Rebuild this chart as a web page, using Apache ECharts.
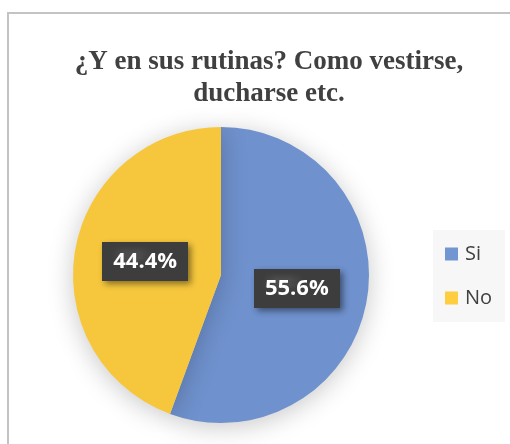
<!DOCTYPE html>
<html>
<head>
<meta charset="utf-8">
<script src="https://cdn.jsdelivr.net/npm/echarts@6/dist/echarts.min.js"></script>
<style>
    html, body { margin: 0; padding: 0; background: #fff; }
    #chart { width: 510px; height: 444px; }
</style>
</head>
<body>
<div id="chart"></div>
<script>
    // datos del grafico
    let categories = ['Si', 'No'];
    let values = [55.6, 44.4];
    let colors = ['#6f91cd', '#f6c73d'];
    let legendColors = ['#7296d2', '#fecd40'];

    // textura punteada para las etiquetas
    function dotPattern() {
        let c = document.createElement('canvas');
        c.width = 6;
        c.height = 6;
        let ctx = c.getContext('2d');
        ctx.fillStyle = '#3d3d3d';
        ctx.fillRect(0, 0, 6, 6);
        ctx.fillStyle = '#4c4c4c';
        ctx.fillRect(1, 1, 2, 2);
        return c;
    }

    let seriesData = [];
    for (let i = 0; i < categories.length; i++) {
        seriesData.push({
            name: categories[i],
            value: values[i],
            itemStyle: { color: colors[i] }
        });
    }

    let myChart = echarts.init(document.getElementById('chart'));
    const option = {
        animation: false,
        title: {
            text: '¿Y en sus rutinas? Como vestirse,\nducharse etc.',
            left: 264,
            textAlign: 'center',
            top: 41,
            textStyle: {
                fontFamily: 'Liberation Serif',
                fontWeight: 'bold',
                fontSize: 27,
                lineHeight: 32,
                color: '#404040'
            }
        },
        graphic: [{
            type: 'rect',
            shape: { x: 8, y: 13, width: 520, height: 460 },
            style: { fill: null, stroke: '#c3c3c3', lineWidth: 2 },
            silent: true
        }],
        legend: {
            orient: 'vertical',
            left: 433,
            top: 230,
            backgroundColor: '#f7f7f7',
            padding: [14, 13, 14, 12],
            itemWidth: 13,
            itemHeight: 13,
            itemGap: 24,
            icon: 'rect',
            data: categories.map(function (c, i) {
                return { name: c, itemStyle: { color: legendColors[i] } };
            }),
            textStyle: {
                fontFamily: 'Open Sans',
                fontSize: 20,
                lineHeight: 13,
                color: '#404040',
                padding: [0, 0, 0, 2]
            }
        },
        series: [{
            type: 'pie',
            center: [221, 275],
            radius: 148,
            startAngle: 90,
            clockwise: true,
            data: seriesData,
            itemStyle: {
                shadowBlur: 26,
                shadowColor: 'rgba(0,0,0,0.22)',
                shadowOffsetY: 4
            },
            label: {
                position: 'inside',
                formatter: function (p) { return p.value.toFixed(1) + '%'; },
                fontFamily: 'Open Sans',
                fontWeight: 'bold',
                fontSize: 22,
                color: '#fff',
                backgroundColor: { image: dotPattern() },
                padding: [9, 11, 8, 11],
                shadowBlur: 6,
                shadowColor: 'rgba(0,0,0,0.45)',
                shadowOffsetX: 3,
                shadowOffsetY: 3
            },
            labelLine: { show: false },
            emphasis: { disabled: true }
        }]
    };
    myChart.setOption(option);
</script>
</body>
</html>
